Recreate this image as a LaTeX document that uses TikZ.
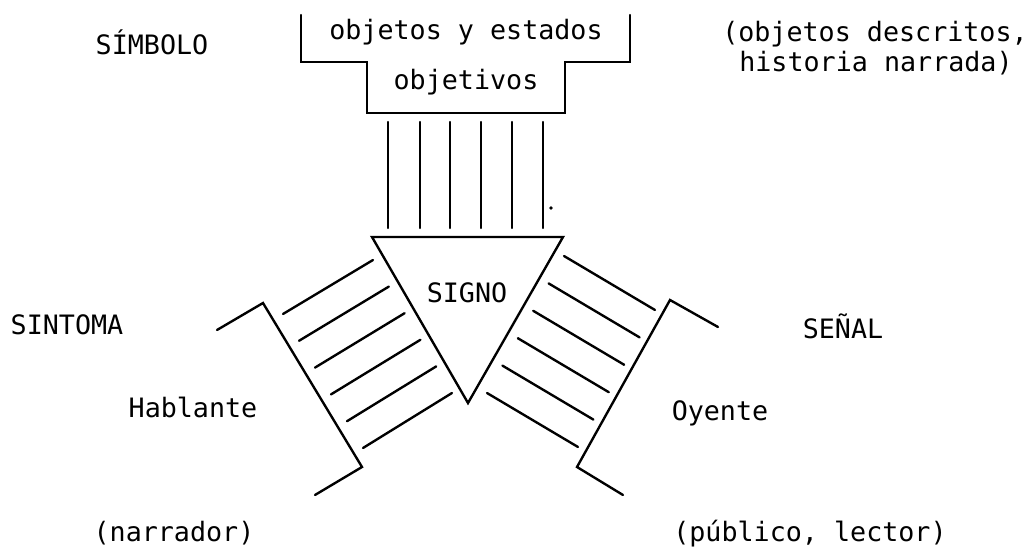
\documentclass[tikz,border=0pt]{standalone}
\usepackage{fontspec}
\setmonofont{DejaVu Sans Mono}
\begin{document}
\begin{tikzpicture}[x=0.02cm,y=-0.02cm,
  ln/.style={line width=1.35pt, line cap=round, line join=miter},
  lbl/.style={inner sep=0pt, anchor=base, font=\fontsize{15.2}{18}\ttfamily}]
\useasboundingbox (0,0) rectangle (1036,554);
% top box
\coordinate (b1) at (301,15);
\coordinate (b2) at (301,62);
\coordinate (b3) at (367,62);
\coordinate (b4) at (367,113);
\coordinate (b5) at (565,113);
\coordinate (b6) at (565,62);
\coordinate (b7) at (630,62);
\coordinate (b8) at (630,15);
\draw[ln] (b1) -- (b2) -- (b3) -- (b4) -- (b5) -- (b6) -- (b7) -- (b8);
\node[lbl] (obj1) at (466,40) {objetos y estados};
\node[lbl] (obj2) at (466,90) {objetivos};
% vertical lines
\foreach \x in {388,420,450,481,512,543}
  \draw[ln] (\x,122) -- (\x,228);
\fill (551,208) circle (1.8);
% triangle
\coordinate (t1) at (372,237);
\coordinate (t2) at (563,237);
\coordinate (t3) at (468,403);
\draw[ln] (t1) -- (t2) -- (t3) -- cycle;
\node[lbl] (signo) at (467,303) {SIGNO};
% left ladder
\coordinate (lh1) at (217,330);
\coordinate (lr1) at (263,303);
\coordinate (lr2) at (362,467);
\coordinate (lh2) at (315,495);
\draw[ln] (lh1) -- (lr1) -- (lr2) -- (lh2);
\foreach \k in {0,...,5}
  \draw[ln] ({283+16*\k},{314+26.8*\k}) -- ({373+15.8*\k},{260+26.6*\k});
% right ladder
\coordinate (rh1) at (718,327);
\coordinate (rr1) at (670,300);
\coordinate (rr2) at (577,467);
\coordinate (rh2) at (623,495);
\draw[ln] (rh1) -- (rr1) -- (rr2) -- (rh2);
\foreach \k in {0,...,5}
  \draw[ln] ({564-15.4*\k},{256+27.4*\k}) -- ({655-15.4*\k},{310+27.4*\k});
% labels
\node[lbl] (simbolo) at (152,55) {SÍMBOLO};
\node[lbl] (desc1) at (875,42) {(objetos descritos,};
\node[lbl] (desc2) at (876,72) {historia narrada)};
\node[lbl] (sintoma) at (67,335) {SINTOMA};
\node[lbl] (senal) at (843,338) {SEÑAL};
\node[lbl] (hablante) at (193,418) {Hablante};
\node[lbl] (oyente) at (720,420) {Oyente};
\node[lbl] (narrador) at (174,541) {(narrador)};
\node[lbl] (publico) at (810,541) {(público, lector)};
\end{tikzpicture}
\end{document}
